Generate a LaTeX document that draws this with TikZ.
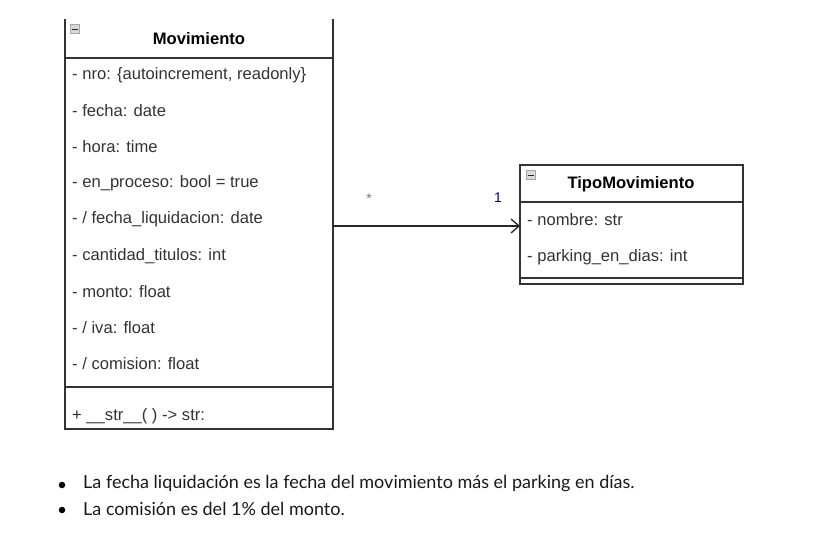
\documentclass[tikz,border=0pt]{standalone}
\usepackage{fontspec}
\setmainfont{Liberation Sans}
\newfontfamily\notefont{Lato}
\usetikzlibrary{arrows.meta}
\tikzset{classline/.style={line width=1.3pt, draw=black!80}}
\tikzset{attr/.style={anchor=west, inner sep=0pt, text=black!80, font=\fontsize{16.6}{18}\selectfont}}
\tikzset{classtitle/.style={inner sep=0pt, font=\bfseries\fontsize{16.6}{18}\selectfont}}
\tikzset{foldbox/.style={draw=black!35, fill=black!15, line width=0.8pt, minimum size=9.5pt, inner sep=0pt,
  path picture={\draw[black!85, line width=1.3pt] ([xshift=1.5pt,yshift=-0.5pt]path picture bounding box.west) -- ([xshift=-1.5pt,yshift=-0.5pt]path picture bounding box.east);}}}
\tikzset{mult/.style={inner sep=0pt, font=\fontsize{14}{16}\selectfont}}
\tikzset{assoc/.style={line width=1.3pt, draw=black!85, -{Straight Barb[length=8pt,width=14pt,line width=1.3pt]}}}
\tikzset{note/.style={anchor=west, inner sep=0pt, text=black!90, font=\notefont\fontsize{18}{20}\selectfont}}
\tikzset{bulletdot/.style={circle, fill=black, inner sep=0pt, minimum size=6.5pt}}

\begin{document}
\begin{tikzpicture}[x=1pt, y=-1pt]
\useasboundingbox (0,0) rectangle (817,535);
\begin{scope}
\clip (0,20) rectangle (817,535);
\draw[classline] (65,10) rectangle (333,429);
\draw[classline] (65,58) -- (333,58);
\draw[classline] (65,387) -- (333,387);
\end{scope}
\node[foldbox] (movFold) at (75,29) {};
\node[classtitle] (movTitle) at (199,39) {Movimiento};
\node[attr] (nro) at (72,75) {- nro: \{autoincrement, readonly\}};
\node[attr] (fecha) at (72,111) {- fecha: date};
\node[attr] (hora) at (72,147) {- hora: time};
\node[attr] (enProceso) at (72,183) {- en\_proceso: bool = true};
\node[attr] (fechaLiq) at (72,219) {- / fecha\_liquidacion: date};
\node[attr] (cantidad) at (72,256) {- cantidad\_titulos: int};
\node[attr] (monto) at (72,292) {- monto: float};
\node[attr] (iva) at (72,328) {- / iva: float};
\node[attr] (comision) at (72,364) {- / comision: float};
\node[attr] (strMethod) at (72,416) {+ \_\_str\_\_( ) -> str:};

\draw[classline] (520,165) rectangle (743,284);
\draw[classline] (520,202) -- (743,202);
\draw[classline] (520,278) -- (743,278);
\node[foldbox] (tipoFold) at (531,175) {};
\node[classtitle] (tipoTitle) at (631,184) {TipoMovimiento};
\node[attr] (nombre) at (527,220) {- nombre: str};
\node[attr] (parking) at (527,257) {- parking\_en\_dias: int};

\coordinate (assocStart) at (333,226);
\coordinate (assocEnd) at (520,226);
\draw[assoc] (assocStart) -- (assocEnd);
\node[mult, text=black!55] (manyEnd) at (369,199) {*};
\node[mult, text=blue!50!black] (oneEnd) at (498,198) {1};

\node[bulletdot] (dotA) at (62,485) {};
\node[note] (noteA) at (83,484) {La fecha liquidación es la fecha del movimiento más el parking en días.};
\node[bulletdot] (dotB) at (62,510) {};
\node[note] (noteB) at (83,509) {La comisión es del 1\% del monto.};
\end{tikzpicture}
\end{document}
